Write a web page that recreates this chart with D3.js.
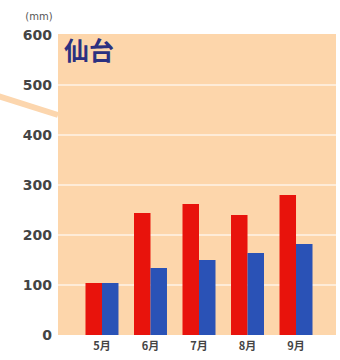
<!DOCTYPE html>
<html>
<head>
<meta charset="utf-8">
<script src="https://cdn.jsdelivr.net/npm/d3@7"></script>
<style>
  body { margin: 0; background: #fff; }
  svg { display: block; }
</style>
</head>
<body>
<script>
var months = ["5月", "6月", "7月", "8月", "9月"]
var redValues = [104, 244, 262, 240, 280]
var blueValues = [104, 134, 150, 164, 182]
var yTicks = [0, 100, 200, 300, 400, 500, 600]
var cityName = "仙台"
var unitLabel = "(mm)"

var width = 340, height = 360
var plot = {left: 58, right: 336, top: 34, bottom: 335}

var svg = d3.select("body")
            .append("svg")
            .attr("width", width)
            .attr("height", height)

var y = d3.scaleLinear()
          .domain([0, 600])
          .range([plot.bottom, plot.top + 1])

var x = d3.scaleBand()
          .domain(months)
          .range([61, 337])
          .paddingInner(0.32)
          .paddingOuter(0.505)

var sub = d3.scaleBand()
            .domain(["red", "blue"])
            .range([0, x.bandwidth()])

// connector line coming in from the left
svg.append("line")
   .attr("x1", -2).attr("y1", 96)
   .attr("x2", plot.left).attr("y2", 115)
   .attr("stroke", "#fcd6ae")
   .attr("stroke-width", 6)

// plot background
svg.append("rect")
   .attr("x", plot.left)
   .attr("y", plot.top)
   .attr("width", plot.right - plot.left)
   .attr("height", plot.bottom - plot.top)
   .attr("fill", "#fdd6ab")

// gridlines
svg.selectAll(".grid")
   .data(yTicks.filter(d => d > 0 && d < 600))
   .enter()
   .append("line")
   .attr("class", "grid")
   .attr("x1", plot.left)
   .attr("x2", plot.right)
   .attr("y1", d => y(d))
   .attr("y2", d => y(d))
   .attr("stroke", "#feecd8")
   .attr("stroke-width", 2)

// y axis labels
var yAxis = d3.axisLeft(y)
              .tickValues(yTicks)
              .tickSize(0)
              .tickPadding(6)

svg.append("g")
   .attr("transform", "translate(" + plot.left + ",0)")
   .call(yAxis)
   .call(g => g.select(".domain").remove())
   .selectAll("text")
   .attr("font-family", "DejaVu Sans")
   .attr("font-weight", "bold")
   .attr("font-size", 14)
   .attr("fill", "#444")

svg.append("text")
   .attr("x", 39)
   .attr("y", 20)
   .attr("text-anchor", "middle")
   .attr("font-family", "DejaVu Sans")
   .attr("font-size", 10)
   .attr("fill", "#555")
   .text(unitLabel)

// bars
var groups = svg.selectAll(".month")
                .data(months)
                .enter()
                .append("g")
                .attr("class", "month")
                .attr("transform", d => "translate(" + x(d) + ",0)")

groups.append("rect")
      .attr("x", sub("red"))
      .attr("width", sub.bandwidth())
      .attr("y", (d, i) => y(redValues[i]))
      .attr("height", (d, i) => y(0) - y(redValues[i]))
      .attr("fill", "#e8130c")

groups.append("rect")
      .attr("x", sub("blue"))
      .attr("width", sub.bandwidth())
      .attr("y", (d, i) => y(blueValues[i]))
      .attr("height", (d, i) => y(0) - y(blueValues[i]))
      .attr("fill", "#2a52b6")

// x labels
var xAxis = d3.axisBottom(x)
              .tickSize(0)
              .tickPadding(7)

svg.append("g")
   .attr("transform", "translate(0," + plot.bottom + ")")
   .call(xAxis)
   .call(g => g.select(".domain").remove())
   .selectAll("text")
   .attr("font-family", "Noto Sans CJK JP")
   .attr("font-weight", "bold")
   .attr("font-size", 11)
   .attr("fill", "#444")

// city title
svg.append("text")
   .attr("x", 64)
   .attr("y", 60)
   .attr("font-family", "Noto Sans CJK JP")
   .attr("font-weight", "bold")
   .attr("font-size", 25)
   .attr("fill", "#2b3080")
   .text(cityName)
</script>
</body>
</html>
